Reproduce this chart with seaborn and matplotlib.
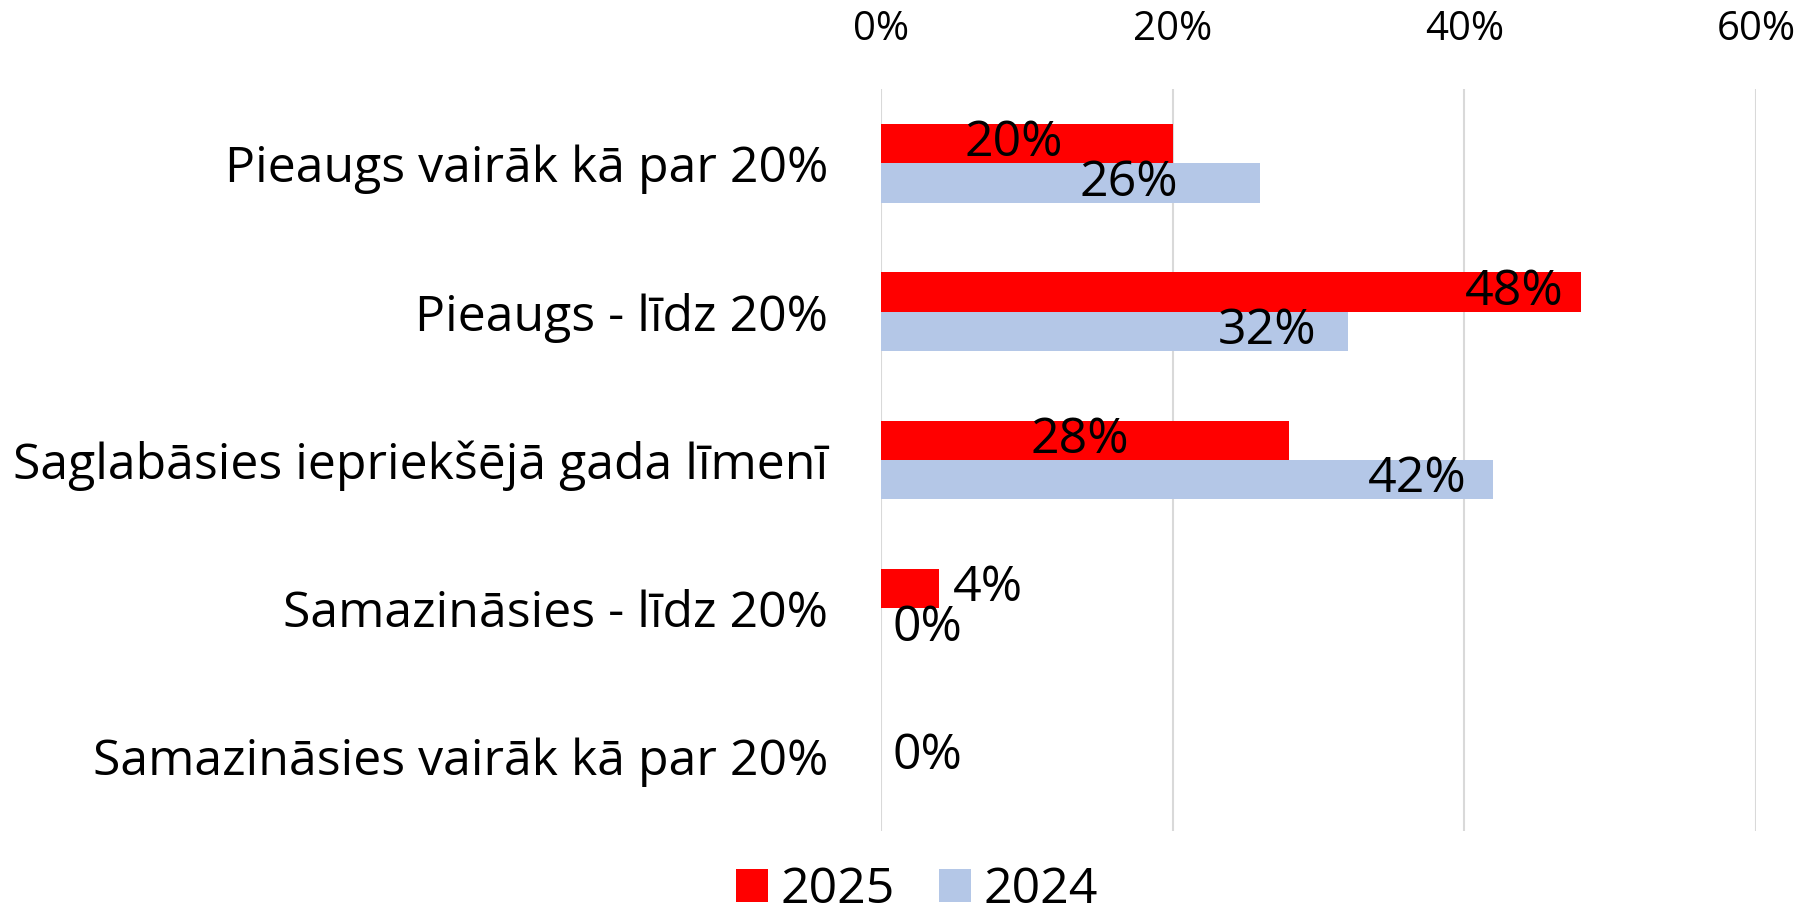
import matplotlib
matplotlib.use('Agg')
import pandas as pd
import seaborn as sns
import matplotlib.pyplot as plt
from matplotlib.ticker import PercentFormatter

categories = ['Pieaugs vairāk kā par 20%', 'Pieaugs - līdz 20%',
              'Saglabāsies iepriekšējā gada līmenī', 'Samazināsies - līdz 20%',
              'Samazināsies vairāk kā par 20%']
years = ['2025', '2024']
values_2025 = [0.20, 0.48, 0.28, 0.04, 0.00]
values_2024 = [0.26, 0.32, 0.42, 0.00, 0.00]
# where the data labels sit on the x axis
label_x_2025 = [0.091, 0.434, 0.136, 0.073, 0.032]
label_x_2024 = [0.170, 0.265, 0.368, 0.032, 0.032]

df = pd.DataFrame({
    'Kategorija': categories * 2,
    'Gads': [years[0]] * 5 + [years[1]] * 5,
    'Vērtība': values_2025 + values_2024,
})

sns.set_style('white')
plt.rcParams['font.family'] = ['Open Sans', 'DejaVu Sans']
plt.rcParams['text.color'] = 'black'
plt.rcParams['xtick.color'] = 'black'
plt.rcParams['ytick.color'] = 'black'

fig = plt.figure(figsize=(17.98, 9.18), dpi=100)
ax = fig.add_axes([0.49, 0.095, 0.4866, 0.808])

sns.barplot(data=df, y='Kategorija', x='Vērtība', hue='Gads', hue_order=years,
            palette={'2025': '#FF0000', '2024': '#B4C7E7'}, width=0.53, saturation=1,
            orient='h', ax=ax, legend=True, linewidth=0)

ax.set_xlim(0, 0.6)
ax.set_xticks([0, 0.2, 0.4, 0.6])
ax.xaxis.set_major_formatter(PercentFormatter(1, decimals=0))
ax.xaxis.tick_top()
ax.tick_params(axis='x', length=0, pad=28, labelsize=29)
ax.tick_params(axis='y', length=0, pad=38, labelsize=36)
ax.set_xlabel('')
ax.set_ylabel('')
ax.grid(axis='x', color='#D9D9D9', linewidth=1.5)
ax.set_axisbelow(True)
for s in ax.spines.values():
    s.set_visible(False)

for i in range(len(categories)):
    v25, v24 = values_2025[i], values_2024[i]
    b25 = ax.containers[0][i]
    b24 = ax.containers[1][i]
    y25 = b25.get_y() + b25.get_height() / 2
    y24 = b24.get_y() + b24.get_height() / 2
    if v25 == 0 and v24 == 0:
        ax.text(label_x_2024[i], i, '{:.0%}'.format(v24), ha='center', va='center', fontsize=36)
        continue
    ax.text(label_x_2025[i], y25, '{:.0%}'.format(v25), ha='center', va='center', fontsize=36)
    ax.text(label_x_2024[i], y24, '{:.0%}'.format(v24), ha='center', va='center', fontsize=36)

handles, labels = ax.get_legend_handles_labels()
ax.get_legend().remove()
fig.legend(handles, labels, loc='center', bbox_to_anchor=(0.51, 0.03), ncol=2, frameon=False,
           fontsize=36, handlelength=0.64, handleheight=0.64, handletextpad=0.25,
           columnspacing=0.9, borderpad=0.1)

fig.savefig('out.png', dpi=100)
